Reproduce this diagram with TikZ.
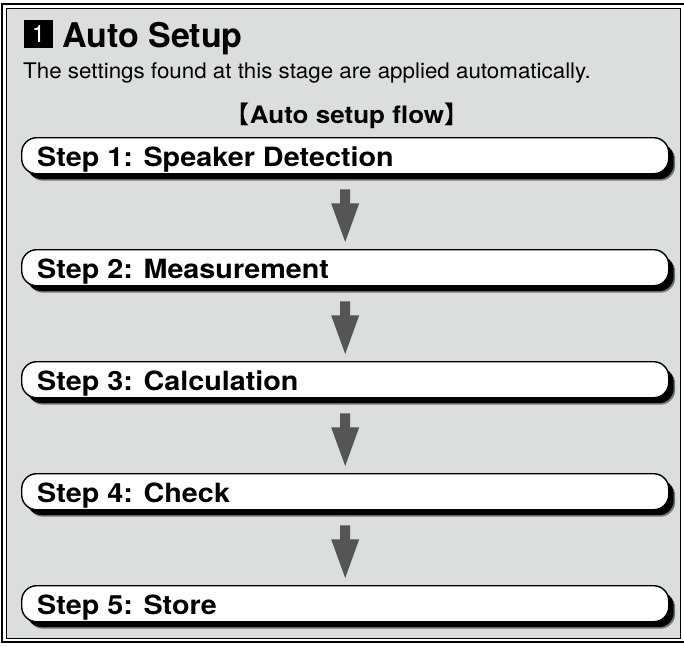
\documentclass[tikz,border=0pt]{standalone}
\usepackage{fontspec}
\setmainfont{TeX Gyre Heros}
\newfontfamily\stepfont[FakeStretch=1.085]{TeX Gyre Heros}
\newfontfamily\subfont[FakeStretch=1.04]{TeX Gyre Heros}
\newfontfamily\cjkfont{Noto Sans CJK SC}
\usetikzlibrary{calc}
\definecolor{panelgray}{HTML}{DCDDDD}
\definecolor{arrowgray}{HTML}{555555}
\tikzset{
  stepbox/.style={draw=black, line width=1.4pt, fill=white, rounded corners=15pt,
    minimum width=647pt, minimum height=36pt, inner sep=0pt, anchor=north west,
    preaction={fill=black!55, rounded corners=15pt, transform canvas={shift={(6.5pt,-7pt)}}},
    preaction={fill=black, rounded corners=15pt, transform canvas={shift={(5pt,-5.5pt)}}}},
  steptext/.style={anchor=base west, inner sep=0pt, font=\stepfont\fontsize{26.5}{28}\selectfont\bfseries},
  flowarrow/.style={fill=arrowgray}
}
\newcommand{\flowarrowdraw}[2]{%
  \fill[flowarrow] ($(#1.south)+(-5,15)$) -- ($(#1.south)+(5,15)$) -- ($(#1.south)+(5,29)$)
    -- ($(#1.south)+(14,29)$) -- ($(#2.north)+(0,-7)$) -- ($(#1.south)+(-14,29)$)
    -- ($(#1.south)+(-5,29)$) -- cycle;}
\begin{document}
\begin{tikzpicture}[x=1pt,y=-1pt]
\useasboundingbox (0,0) rectangle (684,646);
\clip (0,0) rectangle (684,646);
\fill[white] (0,0) rectangle (684,646);
% frame
\draw[line width=2.2pt] (2.1,4) rectangle (695,642);
\draw[line width=1pt, fill=panelgray] (6.5,8.5) rectangle (680,638.5);
% title
\node[fill=black, minimum width=29pt, minimum height=28pt, inner sep=0pt,
  text=white, font=\fontsize{24}{24}\selectfont] (num) at (38.5,34) {1};
\node[anchor=base west, inner sep=0pt, font=\fontsize{34}{36}\selectfont\bfseries] (title) at (62,47) {Auto Setup};
\node[anchor=base west, inner sep=0pt, font=\subfont\fontsize{21.5}{24}\selectfont] (sub) at (23,78) {The settings found at this stage are applied automatically.};
\node[anchor=base, inner sep=0pt, font=\stepfont\fontsize{24}{26}\selectfont\bfseries] (flow) at (347,123)
  {{\cjkfont\bfseries 【}Auto setup flow{\cjkfont\bfseries 】}};
% steps
\node[stepbox] (s1) at (21,137) {};
\node[stepbox] (s2) at (21,249) {};
\node[stepbox] (s3) at (21,361) {};
\node[stepbox] (s4) at (21,473) {};
\node[stepbox] (s5) at (21,585) {};
\node[steptext] (t1) at ($(s1.south west)+(16,-8)$) {Step 1: Speaker Detection};
\node[steptext] (t2) at ($(s2.south west)+(16,-8)$) {Step 2: Measurement};
\node[steptext] (t3) at ($(s3.south west)+(16,-8)$) {Step 3: Calculation};
\node[steptext] (t4) at ($(s4.south west)+(16,-8)$) {Step 4: Check};
\node[steptext] (t5) at ($(s5.south west)+(16,-8)$) {Step 5: Store};
% arrows
\flowarrowdraw{s1}{s2}
\flowarrowdraw{s2}{s3}
\flowarrowdraw{s3}{s4}
\flowarrowdraw{s4}{s5}
\end{tikzpicture}
\end{document}
